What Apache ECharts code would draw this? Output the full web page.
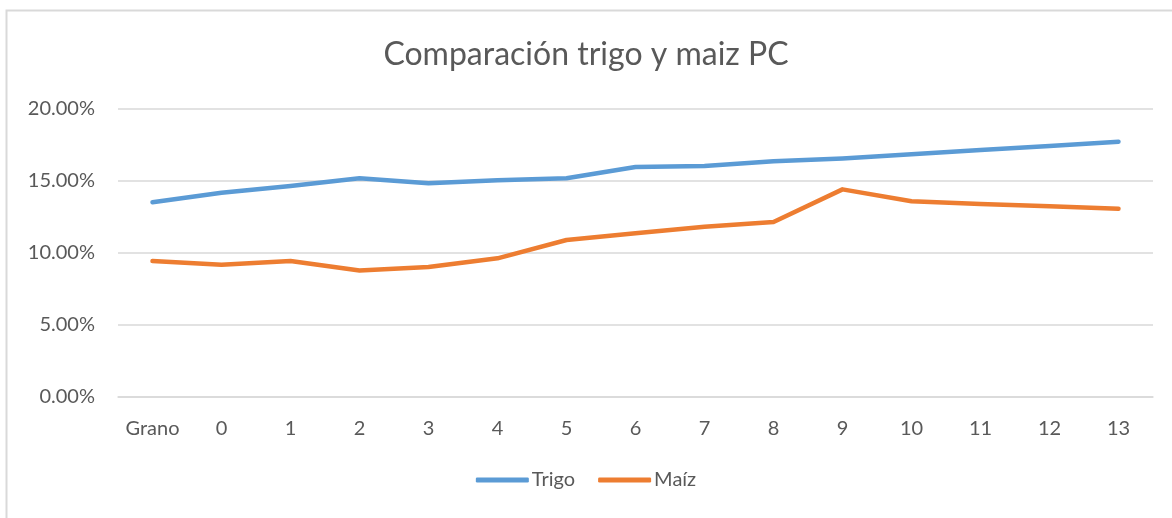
<!DOCTYPE html>
<html>
<head>
<meta charset="utf-8">
<script src="https://cdn.jsdelivr.net/npm/echarts@6/dist/echarts.min.js"></script>
<style>
  html, body { margin: 0; padding: 0; background: #fff; }
  #chart { width: 1172px; height: 518px; }
</style>
</head>
<body>
<div id="chart"></div>
<script>
const categories = ['Grano', '0', '1', '2', '3', '4', '5', '6', '7', '8', '9', '10', '11', '12', '13'];
const trigo = [13.52, 14.19, 14.65, 15.19, 14.84, 15.05, 15.19, 15.97, 16.04, 16.37, 16.57, 16.85, 17.15, 17.43, 17.73];
const maiz = [9.44, 9.19, 9.44, 8.78, 9.03, 9.63, 10.90, 11.37, 11.83, 12.15, 14.42, 13.59, 13.40, 13.24, 13.08];
const yTicks = { min: 0, max: 20, interval: 5 };

const font = 'Lato, "Open Sans", sans-serif';
const chart = echarts.init(document.getElementById('chart'), null, { renderer: 'canvas' });
chart.setOption({
  animation: false,
  backgroundColor: '#ffffff',
  graphic: [{
    type: 'rect', silent: true, z: -1,
    shape: { x: 6.5, y: 10.5, width: 1300, height: 700 },
    style: { fill: 'none', stroke: '#d9d9d9', lineWidth: 2 }
  }],
  title: {
    text: 'Comparación trigo y maiz PC',
    left: 'center', top: 34,
    textStyle: { fontFamily: font, fontSize: 32, fontWeight: 'normal', color: '#595959' }
  },
  legend: {
    bottom: 23, left: 'center',
    icon: 'roundRect', itemWidth: 53, itemHeight: 5, itemGap: 23,
    textStyle: { fontFamily: font, fontSize: 20, color: '#595959', padding: [0, 0, 0, -2] },
    data: ['Trigo', 'Maíz']
  },
  grid: { left: 118, right: 19, top: 109, bottom: 121, containLabel: false },
  xAxis: {
    type: 'category', data: categories, boundaryGap: true,
    axisLine: { show: true, lineStyle: { color: '#d9d9d9', width: 1.5 } },
    axisTick: { show: false },
    axisLabel: { interval: 0, hideOverlap: false, margin: 22, fontFamily: font, fontSize: 20, color: '#595959' }
  },
  yAxis: {
    type: 'value', min: yTicks.min, max: yTicks.max, interval: yTicks.interval,
    axisLine: { show: false }, axisTick: { show: false },
    splitLine: { lineStyle: { color: '#d9d9d9', width: 1.5 } },
    axisLabel: {
      margin: 23, fontFamily: font, fontSize: 20, color: '#595959',
      formatter: v => v.toFixed(2) + '%'
    }
  },
  series: [
    { name: 'Trigo', type: 'line', data: trigo, showSymbol: false, symbol: 'none',
      lineStyle: { color: '#5b9bd5', width: 4.5, cap: 'round', join: 'round' },
      itemStyle: { color: '#5b9bd5' } },
    { name: 'Maíz', type: 'line', data: maiz, showSymbol: false, symbol: 'none',
      lineStyle: { color: '#ed7d31', width: 4.5, cap: 'round', join: 'round' },
      itemStyle: { color: '#ed7d31' } }
  ]
});
</script>
</body>
</html>
